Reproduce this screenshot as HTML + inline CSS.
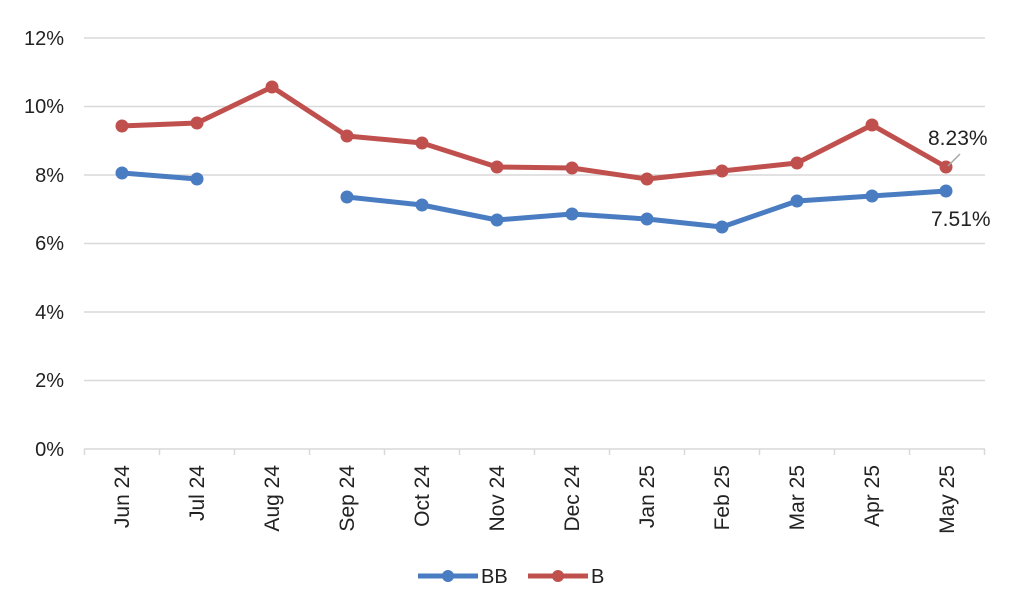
<!DOCTYPE html>
<html><head><style>body{margin:0;background:#fff}svg{display:block;font-family:"Liberation Sans",Arial,sans-serif}</style></head>
<body>
<svg width="1024" height="615" viewBox="0 0 1024 615">
<g stroke="#d9d9d9" stroke-width="1.5">
<line x1="84" x2="985" y1="38" y2="38"/><line x1="84" x2="985" y1="106.5" y2="106.5"/><line x1="84" x2="985" y1="175" y2="175"/><line x1="84" x2="985" y1="243.5" y2="243.5"/><line x1="84" x2="985" y1="312" y2="312"/><line x1="84" x2="985" y1="380.5" y2="380.5"/><line x1="84" x2="985" y1="449" y2="449"/>
<line x1="84.5" x2="84.5" y1="449" y2="455"/><line x1="159.5" x2="159.5" y1="449" y2="455"/><line x1="234.5" x2="234.5" y1="449" y2="455"/><line x1="309.5" x2="309.5" y1="449" y2="455"/><line x1="384.5" x2="384.5" y1="449" y2="455"/><line x1="459.5" x2="459.5" y1="449" y2="455"/><line x1="534.5" x2="534.5" y1="449" y2="455"/><line x1="609.5" x2="609.5" y1="449" y2="455"/><line x1="684.5" x2="684.5" y1="449" y2="455"/><line x1="759.5" x2="759.5" y1="449" y2="455"/><line x1="834.5" x2="834.5" y1="449" y2="455"/><line x1="909.5" x2="909.5" y1="449" y2="455"/><line x1="984.5" x2="984.5" y1="449" y2="455"/>
</g>
<g font-size="20" fill="#222" text-anchor="end">
<text x="64" y="45">12%</text><text x="64" y="113">10%</text><text x="64" y="182">8%</text><text x="64" y="250">6%</text><text x="64" y="319">4%</text><text x="64" y="387">2%</text><text x="64" y="456">0%</text>
</g>
<g font-size="21" fill="#222" text-anchor="end">
<text transform="translate(129,465) rotate(-90)">Jun 24</text>
<text transform="translate(204,465) rotate(-90)">Jul 24</text>
<text transform="translate(279,465) rotate(-90)">Aug 24</text>
<text transform="translate(354,465) rotate(-90)">Sep 24</text>
<text transform="translate(429,465) rotate(-90)">Oct 24</text>
<text transform="translate(504,465) rotate(-90)">Nov 24</text>
<text transform="translate(579,465) rotate(-90)">Dec 24</text>
<text transform="translate(654,465) rotate(-90)">Jan 25</text>
<text transform="translate(729,465) rotate(-90)">Feb 25</text>
<text transform="translate(804,465) rotate(-90)">Mar 25</text>
<text transform="translate(879,465) rotate(-90)">Apr 25</text>
<text transform="translate(954,465) rotate(-90)">May 25</text>
</g>
<g stroke="#4a7cc2" stroke-width="5" fill="none" stroke-linejoin="round">
<polyline points="122,173 197,179"/>
<polyline points="347,197 422,205 497,220 572,214 647,219 722,227 797,201 872,196 946,191"/>
</g>
<g fill="#4a7cc2">
<circle cx="122" cy="173" r="6.5"/><circle cx="197" cy="179" r="6.5"/><circle cx="347" cy="197" r="6.5"/><circle cx="422" cy="205" r="6.5"/><circle cx="497" cy="220" r="6.5"/><circle cx="572" cy="214" r="6.5"/><circle cx="647" cy="219" r="6.5"/><circle cx="722" cy="227" r="6.5"/><circle cx="797" cy="201" r="6.5"/><circle cx="872" cy="196" r="6.5"/><circle cx="946" cy="191" r="6.5"/>
</g>
<polyline points="122,126 197,123 272,87 347,136 422,143 497,167 572,168 647,179 722,171 797,163 872,125 946,167" stroke="#c0504d" stroke-width="5" fill="none" stroke-linejoin="round"/>
<g fill="#c0504d">
<circle cx="122" cy="126" r="6.5"/><circle cx="197" cy="123" r="6.5"/><circle cx="272" cy="87" r="6.5"/><circle cx="347" cy="136" r="6.5"/><circle cx="422" cy="143" r="6.5"/><circle cx="497" cy="167" r="6.5"/><circle cx="572" cy="168" r="6.5"/><circle cx="647" cy="179" r="6.5"/><circle cx="722" cy="171" r="6.5"/><circle cx="797" cy="163" r="6.5"/><circle cx="872" cy="125" r="6.5"/><circle cx="946" cy="167" r="6.5"/>
</g>
<line x1="948" y1="166" x2="960" y2="154" stroke="#a6a6a6" stroke-width="1.5"/>
<text x="928" y="145" font-size="21" fill="#222">8.23%</text>
<text x="931" y="226" font-size="21" fill="#222">7.51%</text>
<line x1="418" y1="576" x2="478" y2="576" stroke="#4a7cc2" stroke-width="5"/>
<circle cx="448" cy="576" r="6" fill="#4a7cc2"/>
<text x="481" y="583" font-size="20" fill="#222">BB</text>
<line x1="528" y1="576" x2="588" y2="576" stroke="#c0504d" stroke-width="5"/>
<circle cx="558" cy="576" r="6" fill="#c0504d"/>
<text x="591" y="583" font-size="20" fill="#222">B</text>
</svg>
</body></html>
